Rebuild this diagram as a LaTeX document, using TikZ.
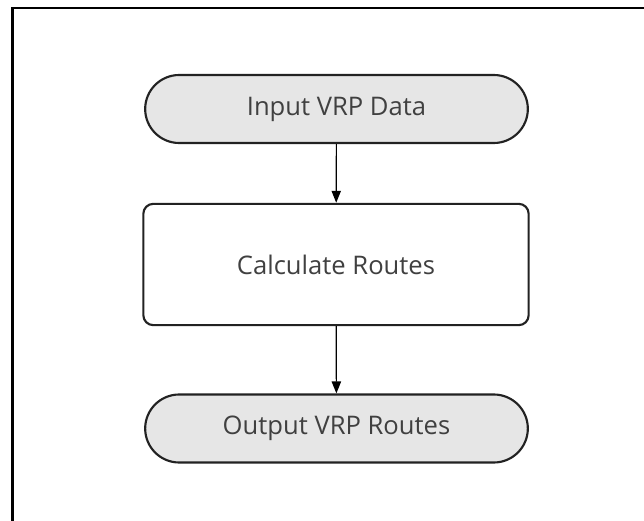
\documentclass[tikz,border=0pt]{standalone}
\usepackage{fontspec}
\setmainfont{Open Sans}
\usetikzlibrary{arrows.meta}
\definecolor{txt}{HTML}{404040}
\definecolor{termfill}{HTML}{E6E6E6}
\definecolor{edge}{HTML}{222222}
\begin{document}
\begin{tikzpicture}[x=0.75pt,y=-0.75pt,
  terminal/.style={draw=edge, line width=1.6pt, fill=termfill, rounded corners=25.5pt,
    minimum width=287pt, minimum height=51pt, inner sep=0pt, text=txt,
    font=\fontsize{19.2}{22}\selectfont},
  process/.style={draw=edge, line width=1.6pt, fill=white, rounded corners=7.5pt,
    minimum width=289pt, minimum height=91pt, inner sep=0pt, text=txt,
    font=\fontsize{19.2}{22}\selectfont},
  flow/.style={draw=black, line width=0.9pt, -{Triangle[length=9pt,width=7pt]}}]
\useasboundingbox (0,0) rectangle (644,521);
\coordinate (fr1) at (12.5,521);
\coordinate (fr2) at (12.5,8);
\coordinate (fr3) at (644,8);
\draw[line width=1.6pt, black] (fr1) -- (fr2) -- (fr3);
\node[terminal] (in) at (336.5,109) {Input VRP Data};
\node[process] (calc) at (336,264.5) {Calculate Routes};
\node[terminal] (out) at (336.5,428.5) {Output VRP Routes};
\draw[flow] (in) -- (calc);
\draw[flow] (calc) -- (out);
\end{tikzpicture}
\end{document}
